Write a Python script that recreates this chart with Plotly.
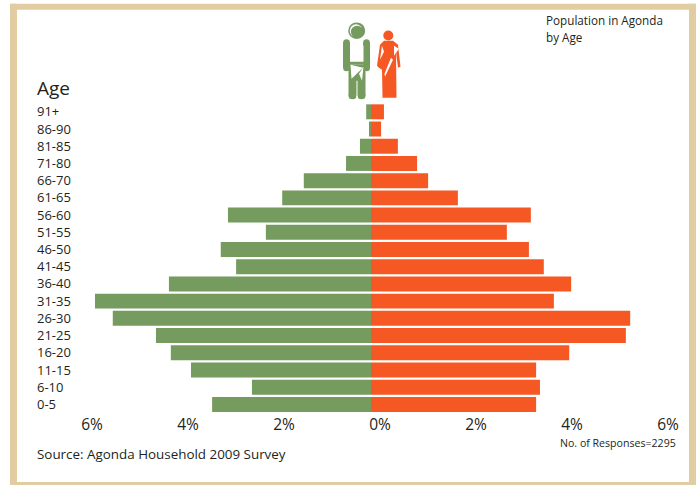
import plotly.graph_objects as go

age_groups = ["0-5","6-10","11-15","16-20","21-25","26-30","31-35","36-40","41-45","46-50","51-55","56-60","61-65","66-70","71-80","81-85","86-90","91+"]
male_pct = [3.31,2.48,3.75,4.17,4.48,5.38,5.75,4.21,2.81,3.13,2.19,2.98,1.85,1.40,0.52,0.23,0.04,0.10]
female_pct = [3.44,3.52,3.44,4.13,5.31,5.40,3.81,4.17,3.60,3.29,2.83,3.33,1.81,1.19,0.96,0.56,0.21,0.27]
x_ticks = [-6,-4,-2,0,2,4,6]
x_tick_labels = ["6%","4%","2%","0%","2%","4%","6%"]

W, H = 700, 485
L, R, T, B = 34, 10, 86.2, 72.4
GREEN, ORANGE, TAN = "#759b5e", "#f55823", "#e2cda2"
FONT = "Open Sans"
TXT = "#231f20"

def X(p): return (p - L) / (W - L - R)
def Y(p): return 1 - (p - T) / (H - T - B)

def path(pts, fill, close=True):
    d = "M " + " L ".join(f"{X(a):.5f},{Y(b):.5f}" for a, b in pts) + (" Z" if close else "")
    return dict(type="path", xref="paper", yref="paper", path=d, fillcolor=fill, line=dict(width=0), layer="above")

def rect(x0, y0, x1, y1, fill):
    return dict(type="rect", xref="paper", yref="paper", x0=X(x0), x1=X(x1), y0=Y(y0), y1=Y(y1),
                fillcolor=fill, line=dict(width=0), layer="above")

def oval(cx, cy, rx, ry, fill):
    return dict(type="circle", xref="paper", yref="paper", x0=X(cx-rx), x1=X(cx+rx), y0=Y(cy-ry), y1=Y(cy+ry),
                fillcolor=fill, line=dict(width=0), layer="above")

shapes = [
    # frame
    rect(10, 4, 696, 10, TAN), rect(10, 4, 17, 485, TAN),
    rect(689, 4, 696, 485, TAN), rect(10, 481.5, 696, 485, TAN),
    # man
    oval(356.7, 31, 8.5, 8.3, GREEN), oval(356, 31, 6.3, 6.4, "white"), oval(357.1, 32.3, 6.2, 6.2, GREEN),
    oval(346.5, 43.5, 3.5, 4, GREEN), oval(366.5, 43.5, 3.5, 4, GREEN),
    rect(343, 43.5, 350, 68, GREEN), rect(363.5, 43.5, 370, 68, GREEN),
    oval(346.5, 68, 3.4, 3.5, GREEN), oval(366.7, 68, 3.3, 3.5, GREEN),
    rect(350, 62, 364, 65, GREEN),
    path([(350,65),(364,65),(365.5,72),(365.5,96),(348.5,96),(348.5,72)], GREEN),
    oval(352.5, 96, 4, 3.5, GREEN), oval(361.5, 96, 4, 3.5, GREEN),
    path([(356.5,81),(356.5,99.5),(357.5,99.5),(357.5,81)], "white"),
    path([(350.5,65),(363,68),(351.5,79)], "white"),
    path([(363.5,67),(359,74),(362,81)], "white"),
    # woman
    oval(388.3, 35.8, 5, 5, ORANGE),
    path([(384,41),(393,41),(398,45),(400.5,67),(398,68),(396,52),(396.5,98),(382.5,98),(382,70),(379,68),(377,66),(380,45)], ORANGE),
    path([(382,46),(380,60),(384,52)], "white"),
    path([(394,46),(394,56),(399,49)], "white"),
    path([(391,58),(393,60),(385,77),(384.5,74)], "white"),
]

fig = go.Figure()
fig.add_bar(y=age_groups, x=[-v for v in male_pct], orientation="h", marker=dict(color=GREEN, line_width=0), name="Male",
            customdata=male_pct, hovertemplate="%{y}: %{customdata}%<extra>Male</extra>")
fig.add_bar(y=age_groups, x=female_pct, orientation="h", marker=dict(color=ORANGE, line_width=0), name="Female",
            hovertemplate="%{y}: %{x}%<extra>Female</extra>")

def note(text, px, py, size):
    return dict(text=text, xref="paper", yref="paper", x=X(px), y=Y(py), xanchor="left", yanchor="middle",
                showarrow=False, align="left", borderpad=0, borderwidth=0, font=dict(size=size, color=TXT, family=FONT))

fig.update_layout(
    width=W, height=H, margin=dict(l=L, r=R, t=T, b=B, pad=0, autoexpand=False),
    paper_bgcolor="white", plot_bgcolor="white", barmode="relative", bargap=0.13, showlegend=False,
    font=dict(family=FONT, color=TXT),
    xaxis=dict(range=[-7.021, 6.646], tickvals=x_ticks, ticktext=x_tick_labels, showgrid=False, zeroline=False,
               showline=False, ticks="", ticklabelshift=9, ticklabelstandoff=0, tickfont=dict(size=15.5, color=TXT, family=FONT)),
    yaxis=dict(type="category", categoryorder="array", categoryarray=age_groups, range=[-0.5, 18.5],
               showgrid=False, zeroline=False, showline=False, ticks="", ticklabelposition="inside",
               tickfont=dict(size=13, color=TXT, family=FONT)),
    shapes=shapes,
    annotations=[
        note("Age", 37, 88, 19),
        note("Population in Agonda", 546, 20, 11.7),
        note("by Age", 546, 37, 11.7),
        note("No. of Responses=2295", 560, 443, 10.6),
        note("Source: Agonda Household 2009 Survey", 37, 454, 13.4),
    ],
)
fig.write_html("out.html", config={"displayModeBar": False}, post_script="document.body.style.margin='0';")
